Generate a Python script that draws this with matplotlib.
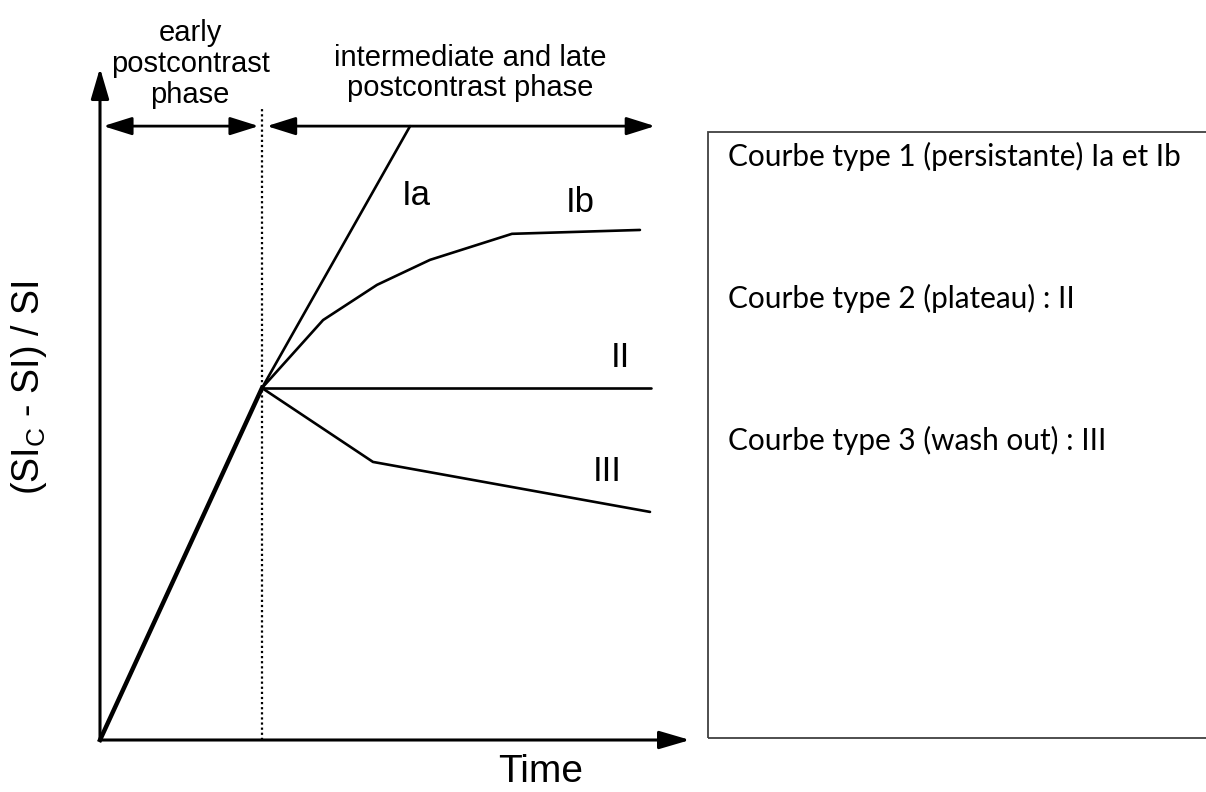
import matplotlib
matplotlib.use("Agg")
import matplotlib.pyplot as plt
from matplotlib.patches import Rectangle

plt.rcParams['font.family'] = ['Liberation Sans', 'DejaVu Sans']
plt.rcParams['mathtext.fontset'] = 'custom'
plt.rcParams['mathtext.rm'] = 'Liberation Sans'
plt.rcParams['mathtext.it'] = 'Liberation Sans'

# time in units of the early phase, enhancement in units of the early peak
early_t = [0, 1]
early_s = [0, 1]
ia_t = [1, 1.914]
ia_s = [1, 1.744]
ib_t = [1, 1.377, 1.710, 2.037, 2.543, 3.333]
ib_s = [1, 1.193, 1.293, 1.364, 1.438, 1.449]
ii_t = [1, 3.40]
ii_s = [1, 1]
iii_t = [1, 1.685, 3.395]
iii_s = [1, 0.790, 0.648]

curve_labels = ['Ia', 'Ib', 'II', 'III']
label_t = [1.951, 2.963, 3.21, 3.13]
label_s = [1.548, 1.528, 1.088, 0.764]

box_lines = ['Courbe type 1 (persistante) Ia et Ib',
             'Courbe type 2 (plateau) : II',
             'Courbe type 3 (wash out) : III']

fig = plt.figure(figsize=(12.06, 7.92), dpi=100)
ax = fig.add_axes([0, 0, 1, 1])
ax.set_xlim(-100 / 162, 1106 / 162)
ax.set_ylim(-52 / 352, 740 / 352)
ax.axis('off')

lw = 1.9
for t, s in [(early_t, early_s), (ia_t, ia_s), (ib_t, ib_s), (ii_t, ii_s), (iii_t, iii_s)]:
    ax.plot(t, s, color='black', lw=lw, solid_capstyle='round')
ax.plot(early_t, early_s, color='black', lw=3.2)

for lab, t, s in zip(curve_labels, label_t, label_s):
    ax.text(t, s, lab, fontsize=25, ha='center', va='center')

# axes with arrows
head = '-|>,head_length=0.75,head_width=0.22'
ax.annotate('', xy=(0, 1.909), xytext=(0, 0),
            arrowprops=dict(arrowstyle=head, color='black', lw=2.2,
                            mutation_scale=25, shrinkA=0, shrinkB=0))
ax.annotate('', xy=(3.642, 0), xytext=(0, 0),
            arrowprops=dict(arrowstyle=head, color='black', lw=2.2,
                            mutation_scale=25, shrinkA=0, shrinkB=0))

ax.plot([1, 1], [0, 1.798], color='black', lw=1.6, ls=(0, (1, 1.3)))

# phase arrows
dbl = '<|-|>,head_length=0.7,head_width=0.22'
s_arr = 1.744
ax.annotate('', xy=(0.02, s_arr), xytext=(0.98, s_arr),
            arrowprops=dict(arrowstyle=dbl, color='black', lw=2,
                            mutation_scale=25, shrinkA=0, shrinkB=0))
ax.annotate('', xy=(1.03, s_arr), xytext=(3.426, s_arr),
            arrowprops=dict(arrowstyle=dbl, color='black', lw=2,
                            mutation_scale=25, shrinkA=0, shrinkB=0))

ax.text(0.556, 1.92, 'early\npostcontrast\nphase', fontsize=21,
        ha='center', va='center', linespacing=1.13)
ax.text(2.284, 1.895, 'intermediate and late\npostcontrast phase', fontsize=21,
        ha='center', va='center', linespacing=1.13)

ax.text(-0.438, 1.0, '(SI$_\\mathrm{C}$ - SI) / SI', fontsize=27,
        rotation=90, ha='center', va='center')
ax.text(2.722, -0.09, 'Time', fontsize=28, ha='center', va='center')

# text box on the right, its right edge runs off the picture
W, H = 1206, 792
fig.patches.append(Rectangle((708 / W, (H - 738) / H), (1220 - 708) / W, (738 - 132) / H,
                             transform=fig.transFigure, fill=False,
                             edgecolor='#404040', lw=1.3))
for i, line in enumerate(box_lines):
    fig.text(728 / W, (H - 166 - 142 * i) / H, line, fontsize=21.4,
             family='Lato', va='baseline', ha='left')

fig.savefig('out.png', dpi=100)
